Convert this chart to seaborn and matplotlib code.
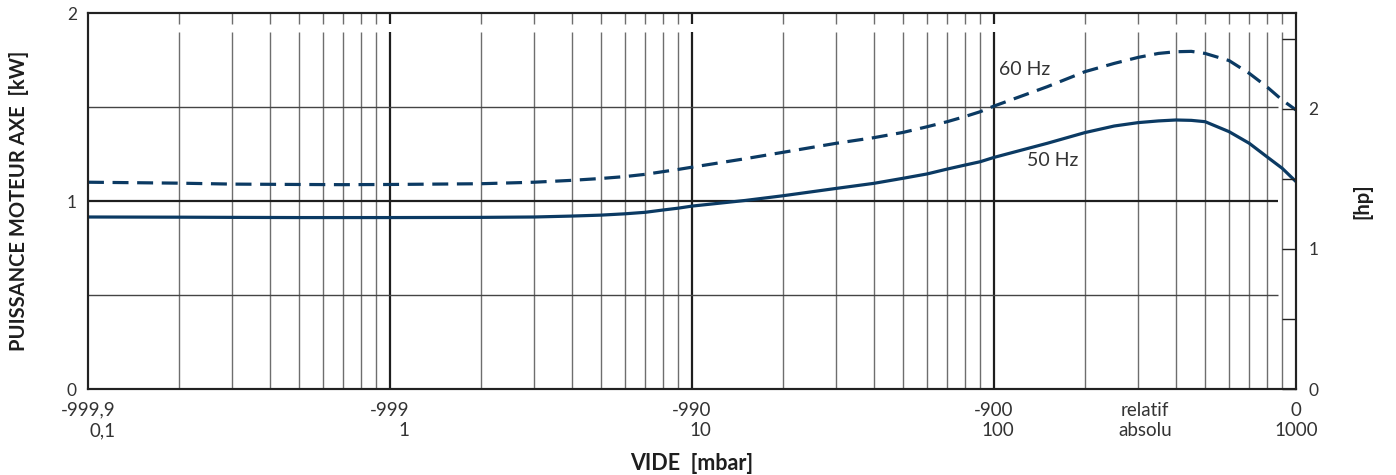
import numpy as np
import pandas as pd
import seaborn as sns
import matplotlib.pyplot as plt

# curve readings: vacuum (absolute mbar) vs shaft power (kW)
mbar = [0.1, 0.2, 0.3, 0.5, 0.7, 1, 2, 3, 4, 5, 6, 7, 8, 9, 10, 15, 20, 30, 40, 50,
        60, 70, 80, 90, 100, 150, 200, 250, 300, 350, 400, 450, 500, 600, 700, 800, 900, 1000]
kw_50hz = [0.915, 0.914, 0.913, 0.912, 0.912, 0.912, 0.913, 0.915, 0.92, 0.925, 0.932, 0.94,
           0.952, 0.962, 0.973, 1.003, 1.028, 1.067, 1.094, 1.121, 1.144, 1.170, 1.191, 1.209,
           1.232, 1.307, 1.364, 1.399, 1.417, 1.426, 1.431, 1.429, 1.422, 1.369, 1.307, 1.236,
           1.174, 1.103]
kw_60hz = [1.10, 1.095, 1.09, 1.088, 1.087, 1.088, 1.092, 1.10, 1.11, 1.12, 1.13, 1.142,
           1.156, 1.168, 1.18, 1.225, 1.259, 1.307, 1.337, 1.365, 1.395, 1.422, 1.449, 1.475,
           1.505, 1.608, 1.688, 1.732, 1.764, 1.785, 1.794, 1.796, 1.785, 1.747, 1.679, 1.608,
           1.537, 1.484]

tick_pos = [0.1, 1, 10, 100, 316.2, 1000]
tick_labels = ['-999,9\n0,1', '-999\n1', '-990\n10', '-900\n100', 'relatif\nabsolu', '0\n1000']
tick_align = ['right', 'right', 'right', 'right', 'center', 'center']

df = pd.DataFrame({'mbar': mbar * 2,
                   'kW': kw_50hz + kw_60hz,
                   'freq': ['50 Hz'] * len(mbar) + ['60 Hz'] * len(mbar)})

sns.set_style('white')
plt.rcParams['font.family'] = ['Lato', 'DejaVu Sans']

navy = '#0b3a63'
txt = '#333333'

fig = plt.figure(figsize=(13.96, 4.75), dpi=100)
ax = fig.add_axes([0.063, 0.181, 0.8654, 0.7916])
ax.set_xscale('log')
ax.set_xlim(0.1, 1000)
ax.set_ylim(0, 2)

# grid: vertical lines with a small gap near the top
minor = [m * 10.0 ** e for e in range(-1, 3) for m in range(2, 10)]
for xv in minor + [1, 10, 100]:
    major = xv in (1, 10, 100)
    c = '#1e1e1e' if major else '#6e6e6e'
    w = 1.6 if major else 1.0
    ax.vlines(xv, 0, 1.90, color=c, lw=w, zorder=1)
    ax.vlines(xv, 1.94, 2, color=c, lw=w, zorder=1)
ax.hlines([0.5, 1.5], 0.1, 870, color='#444444', lw=1.0, zorder=1)
ax.hlines(1.0, 0.1, 870, color='#1e1e1e', lw=1.6, zorder=1)

sns.lineplot(data=df, x='mbar', y='kW', style='freq',
             dashes={'50 Hz': '', '60 Hz': (5, 2.7)},
             color=navy, lw=2.3, legend=False, ax=ax, zorder=3)

ax.text(156, 1.218, '50 Hz', fontsize=14, color=txt, va='center', ha='center')
ax.text(126, 1.697, '60 Hz', fontsize=14, color=txt, va='center', ha='center')

ax.set_xticks(tick_pos)
ax.set_xticklabels(tick_labels)
ax.minorticks_off()
for lab, al in zip(ax.get_xticklabels(), tick_align):
    lab.set_multialignment(al)
    lab.set_linespacing(1.25)
ax.set_yticks([0, 1, 2])
ax.set_yticklabels(['0', '1', '2'])
ax.tick_params(axis='both', length=0, labelcolor=txt)
ax.tick_params(axis='x', pad=9, labelsize=13.5)
ax.tick_params(axis='y', pad=8, labelsize=12.5)

ax.set_xlabel('VIDE  [mbar]', fontsize=15.5, fontweight='bold', color='#1e1e1e')
ax.set_ylabel('PUISSANCE MOTEUR AXE  [kW]', fontsize=14.5, fontweight='bold', color='#1e1e1e')
ax.xaxis.set_label_coords(0.5, -0.17)
ax.yaxis.set_label_coords(-0.049, 0.5)

for s in ax.spines.values():
    s.set_color('#222222')
    s.set_linewidth(1.5)

ax2 = ax.twinx()
ax2.set_ylim(0, 2 / 0.7457)
ax2.set_yticks([0, 0.5, 1, 1.5, 2, 2.5])
ax2.set_yticklabels(['0', '', '1', '', '2', ''])
ax2.tick_params(axis='y', direction='in', length=10, width=1.0, color='#222222',
                labelsize=12.5, labelcolor=txt, pad=9)
ax2.set_ylabel('[hp]', fontsize=14.5, fontweight='bold', color='#1e1e1e', rotation=90)
ax2.yaxis.set_label_coords(1.047, 0.5)
for s in ax2.spines.values():
    s.set_color('#222222')
    s.set_linewidth(1.5)

fig.savefig('out.png', dpi=100)
